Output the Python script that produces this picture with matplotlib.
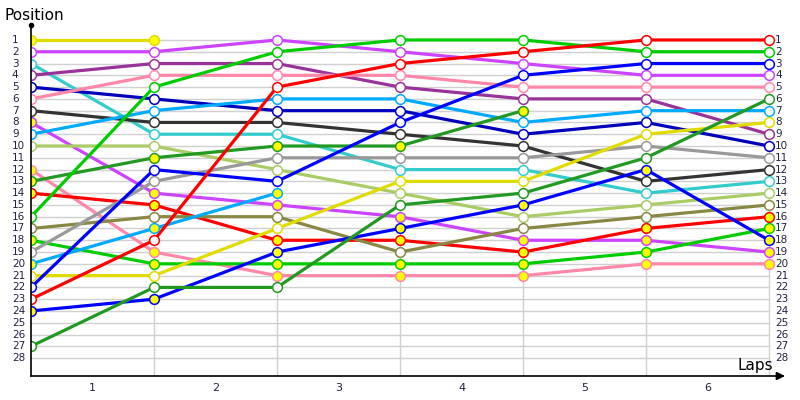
import matplotlib.pyplot as plt

# positions after each lap (column 0 = start), shorter lists = retired
positions = [
    [1, 1],
    [2, 2, 1, 2, 3, 4, 4],
    [3, 9, 9, 12, 12, 14, 13],
    [4, 3, 3, 5, 6, 6, 9],
    [5, 6, 7, 7, 9, 8, 10],
    [6, 4, 4, 4, 5, 5, 5],
    [7, 8, 8, 9, 10, 13, 12],
    [8, 14, 15, 16, 18, 18, 19],
    [9, 7, 6, 6, 8, 7, 7],
    [10, 10, 12, 14, 16, 15, 14],
    [12, 19, 21, 21, 21, 20, 20],
    [13, 11, 10, 10, 7],
    [14, 15, 18, 18, 19, 17, 16],
    [16, 5, 2, 1, 1, 2, 2],
    [17, 16, 16, 19, 17, 16, 15],
    [18, 20, 20, 20, 20, 19, 17],
    [19, 13, 11, 11, 11, 10, 11],
    [20, 17, 14],
    [21, 21, 17, 13, 13, 9, 8],
    [22, 12, 13, 8, 4, 3, 3],
    [23, 18, 5, 3, 2, 1, 1],
    [24, 23, 19, 17, 15, 12, 18],
    [27, 22, 22, 15, 14, 11, 6],
]
colors = ['#e0dc00', '#cc44ff', '#33cccc', '#993399', '#0000bb', '#ff88aa',
          '#333333', '#cc44ff', '#00aaff', '#aacc66', '#ff88aa', '#229922',
          '#ff0000', '#00cc00', '#888844', '#00cc00', '#999999', '#00aaff',
          '#e0dc00', '#0000ff', '#ff0000', '#0000ff', '#229922']
filled = [True, False, False, False, False, False, False, True, False, False,
          True, True, True, False, False, True, False, True, False, False,
          False, True, False]
lap_labels = ['1', '2', '3', '4', '5', '6']
n_pos = 28
n_cols = 7

fig = plt.figure(figsize=(8, 4), dpi=100)
ax = fig.add_axes([31 / 800, 24 / 400, 754 / 800, 351 / 400])
ax.set_xlim(0, 6.13)
ax.set_ylim(29.52, -0.27)

# grid
for p in range(1, n_pos + 1):
    ax.plot([0, n_cols - 1], [p, p], color='#d0d0d0', lw=1, zorder=1)
for c in range(1, n_cols):
    ax.plot([c, c], [1, 29.52], color='#d0d0d0', lw=1, zorder=1)

for pos, col in zip(positions, colors):
    ax.plot(range(len(pos)), pos, color=col, lw=2.3, zorder=3,
            solid_capstyle='butt')
for pos, col, f in zip(positions, colors, filled):
    ax.plot(range(len(pos)), pos, ls='none', marker='o', ms=7,
            mfc='#ffff00' if f else 'white', mec=col, mew=1.1, zorder=4)

for s in ['top', 'right', 'bottom', 'left']:
    ax.spines[s].set_visible(False)
ax.set_xticks([])
ax.set_yticks([])

# axes lines
ax.plot([0, 0], [-0.27, 29.52], color='black', lw=1.2, clip_on=False, zorder=5)
ax.plot([0], [-0.27], marker='o', ms=3, color='black', clip_on=False)
ax.annotate('', xy=(6.13, 29.52), xytext=(0, 29.52),
            arrowprops=dict(arrowstyle='-|>', color='black', lw=1.2,
                            mutation_scale=12, shrinkA=0, shrinkB=0),
            annotation_clip=False)

for p in range(1, n_pos + 1):
    ax.text(-0.155, p, str(p), ha='left', va='center', fontsize=7.5,
            color='#222244')
    ax.text(6.05, p, str(p), ha='left', va='center', fontsize=7.5,
            color='#222244')
for i, lab in enumerate(lap_labels):
    ax.text(i + 0.5, 30.5, lab, ha='center', va='center', fontsize=8,
            color='#222244')

fig.text(5 / 800, 1 - 15 / 400, 'Position', fontsize=11, va='center',
         ha='left')
ax.text(6.03, 29.3, 'Laps', fontsize=11, ha='right', va='bottom')

fig.savefig('out.png')
